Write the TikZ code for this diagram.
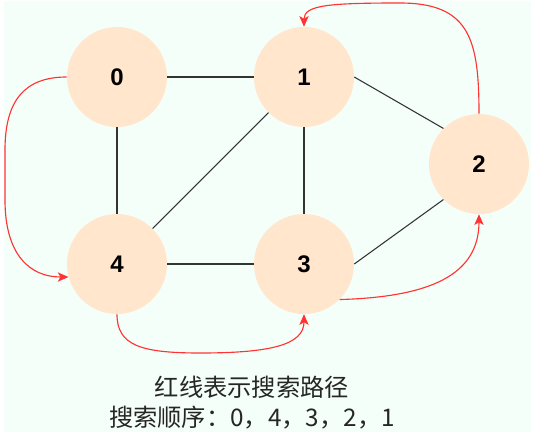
\documentclass[tikz,border=0pt]{standalone}
\usepackage{fontspec}
\setmainfont{Liberation Sans}
\newfontfamily\cjk{Noto Sans CJK SC}
\usetikzlibrary{arrows.meta}
\definecolor{bgmint}{HTML}{F5FFF9}
\definecolor{nodefill}{HTML}{FFE6CC}
\definecolor{pathred}{HTML}{FF3333}
\definecolor{edgegray}{HTML}{333333}
\tikzset{
  vertex/.style={circle, fill=nodefill, draw=none, minimum size=100*0.75pt, inner sep=0pt,
    font=\fontsize{18}{20}\selectfont\bfseries},
  edge/.style={draw=edgegray, line width=0.8pt},
  route/.style={draw=pathred, line width=0.85pt, -{Stealth[length=8pt,width=7pt,inset=2pt]}},
  caption/.style={font=\cjk\fontsize{18.2}{22.5}\selectfont, align=center, text=black!85}
}
\begin{document}
\begin{tikzpicture}[x=0.75pt, y=-0.75pt]
\useasboundingbox (0,0) rectangle (537,437);
\fill[white] (0,0) rectangle (537,437);
\fill[bgmint] (4,1) rectangle (531,432);

\node[vertex] (n0) at (117,77) {0};
\node[vertex] (n1) at (304,77) {1};
\node[vertex] (n2) at (479,164) {2};
\node[vertex] (n4) at (117,264) {4};
\node[vertex] (n3) at (304,264) {3};

% black edges
\draw[edge] (n0) -- (n1);
\draw[edge] (n0) -- (n4);
\draw[edge] (n1) -- (n4);
\draw[edge] (n1) -- (n3);
\draw[edge] (n1.east) -- (n2.135);
\draw[edge] (n2.225) -- (n3.east);
\draw[edge] (n4) -- (n3);

% red search path
\coordinate (a1) at (5,150);
\coordinate (a2) at (5,200);
\draw[route] (n0.west) .. controls (25,77) and (5,100) .. (a1) -- (a2)
  .. controls (5,255) and (30,277) .. (n4.195);

\coordinate (b1) at (200,353);
\draw[route] (n4.south) .. controls (117,345) and (140,353) .. (b1)
  .. controls (270,353) and (304,345) .. (n3.south);

\draw[route] (n3.-45) .. controls (430,297) and (479,275) .. (n2.south);

\coordinate (c1) at (400,3);
\draw[route] (n2.north) .. controls (479,40) and (470,3) .. (c1)
  .. controls (330,3) and (304,5) .. (n1.north);

\node[caption] (cap) at (252,403) {红线表示搜索路径\\搜索顺序：0，4，3，2，1};
\end{tikzpicture}
\end{document}
